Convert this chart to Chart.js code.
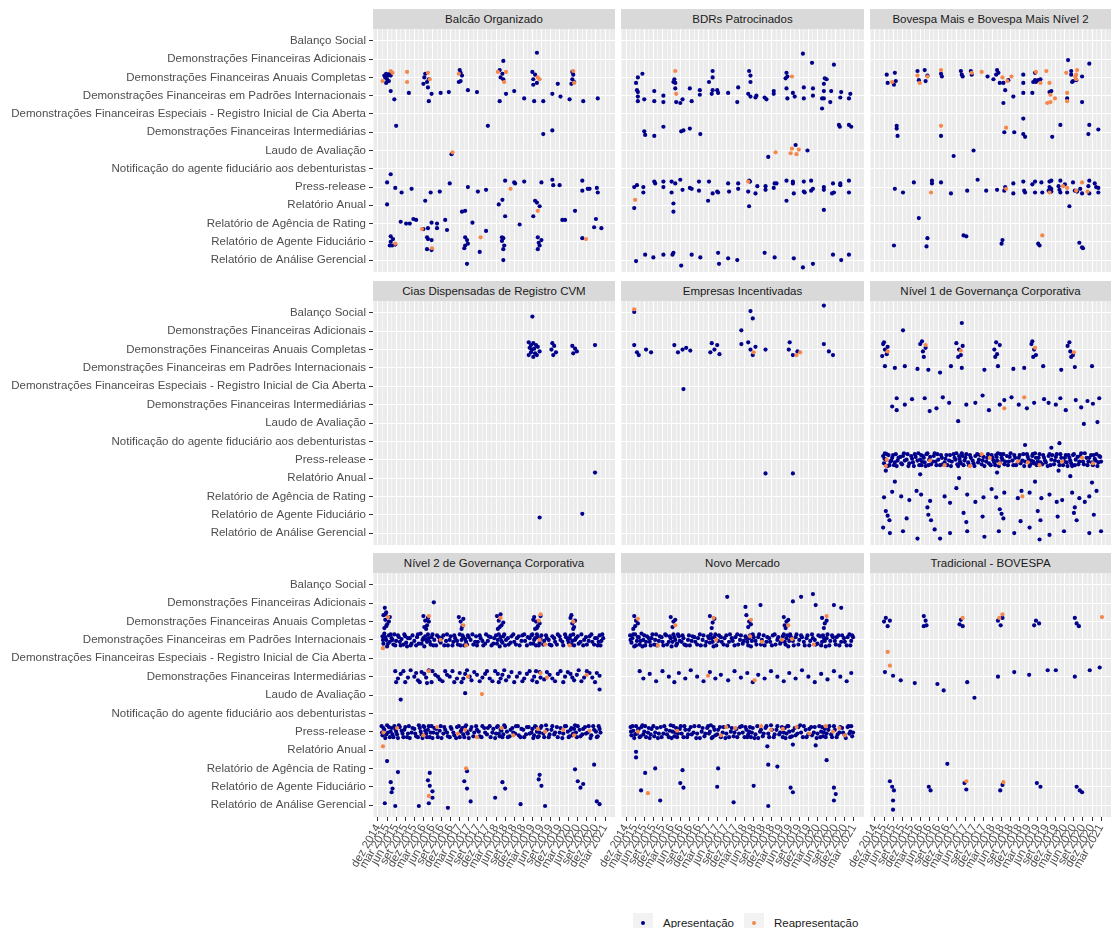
<!DOCTYPE html>
<html>
<head>
<meta charset="utf-8">
<script src="https://cdn.jsdelivr.net/npm/chart.js@4.4.1/dist/chart.umd.min.js"></script>
<style>
  body { margin: 0; background: #fff; font-family: "Liberation Sans", Arial, sans-serif; }
  #tela { position: relative; width: 1113px; height: 928px; overflow: hidden; }
  .faixa { position: absolute; height: 20px; line-height: 20px; background: #d9d9d9; color: #1a1a1a; font-size: 11.5px; text-align: center; }
  .caixa { position: absolute; }
  #legenda { position: absolute; top: 913px; left: 633px; font-size: 11.5px; color: #1a1a1a; display: flex; align-items: center; }
  #legenda .chave { width: 20px; height: 20px; background: #f2f2f2; position: relative; margin-right: 10px; }
  #legenda .chave i { position: absolute; left: 8px; top: 8px; width: 4px; height: 4px; border-radius: 50%; }
  #legenda span.txt { margin-right: 10px; }
</style>
</head>
<body>
<div id="tela">
  <div id="legenda">
    <div class="chave"><i style="background:#00008b"></i></div><span class="txt">Apresentação</span>
    <div class="chave"><i style="background:#f4874b"></i></div><span class="txt">Reapresentação</span>
  </div>
</div>
<script>
// categorias do eixo y (de cima para baixo)
const categorias = [
  'Balanço Social',
  'Demonstrações Financeiras Adicionais',
  'Demonstrações Financeiras Anuais Completas',
  'Demonstrações Financeiras em Padrões Internacionais',
  'Demonstrações Financeiras Especiais - Registro Inicial de Cia Aberta',
  'Demonstrações Financeiras Intermediárias',
  'Laudo de Avaliação',
  'Notificação do agente fiduciário aos debenturistas',
  'Press-release',
  'Relatório Anual',
  'Relatório de Agência de Rating',
  'Relatório de Agente Fiduciário',
  'Relatório de Análise Gerencial'
];

// rótulos trimestrais do eixo x (índice 0 = dez 2014)
const rotulosX = ['dez 2014','mar 2015','jun 2015','set 2015','dez 2015','mar 2016','jun 2016','set 2016',
  'dez 2016','mar 2017','jun 2017','set 2017','dez 2017','mar 2018','jun 2018','set 2018','dez 2018',
  'mar 2019','jun 2019','set 2019','dez 2019','mar 2020','jun 2020','set 2020','dez 2020','mar 2021'];

const titulos = ['Balcão Organizado','BDRs Patrocinados','Bovespa Mais e Bovespa Mais Nível 2',
  'Cias Dispensadas de Registro CVM','Empresas Incentivadas','Nível 1 de Governança Corporativa',
  'Nível 2 de Governança Corporativa','Novo Mercado','Tradicional - BOVESPA'];

// pontos [trimestre, categoria + jitter]
const balcaoApres = [[0.8,2.0],[0.9,1.8],[1.1,1.9],[1.3,1.8],[1.0,2.1],[1.2,2.2],[0.9,2.3],[1.4,1.9],[0.7,1.9],
  [3.4,2.85],[5.2,1.8],[5.1,2.0],[5.0,2.35],[5.4,2.25],[5.6,2.1],[5.5,2.55],[5.6,3.3],[5.9,2.9],[6.9,2.85],[7.8,2.8],
  [9.0,1.6],[9.1,1.75],[9.25,1.9],[9.1,2.2],[8.9,2.25],[9.9,2.7],[10.9,2.8],[12.1,4.65],
  [13.8,1.1],[13.4,1.6],[13.7,1.8],[13.5,2.0],[13.8,2.1],[13.4,3.3],[14.1,2.9],[15.0,2.75],[16.1,3.15],[17.2,3.3],
  [18.2,3.3],[18.2,5.1],[19.2,4.9],[19.2,2.9],[19.8,2.35],[20.1,3.05],[21.1,3.2],[22.6,3.3],[24.2,3.15],
  [1.4,2.75],[1.8,3.2],[2.0,4.65],[17.0,1.7],[17.3,1.85],[17.1,2.1],[17.5,2.3],[17.1,2.4],[17.5,0.65],
  [21.4,1.7],[21.5,1.85],[21.4,2.1],[21.6,2.25],[21.3,2.35],[8.1,6.2],
  [1.0,7.75],[1.4,7.3],[1.9,8.05],[2.6,8.3],[3.7,8.1],[5.2,8.75],[5.8,8.3],[6.8,8.25],[7.9,7.8],[9.9,8.0],
  [11.0,8.25],[11.9,8.15],[14.0,7.65],[15.0,7.75],[15.1,7.8],[16.1,7.7],[18.0,7.75],[19.2,7.6],[19.3,7.9],[20.0,7.9],
  [22.5,7.65],[22.5,8.2],[23.1,8.1],[23.3,8.1],[24.1,8.05],[24.2,8.3],
  [1.0,8.95],[13.3,8.95],[13.7,8.7],[17.3,8.75],[17.5,8.85],[17.8,9.05],[9.25,9.35],[9.6,9.3],[14.0,9.6],[21.7,9.3],
  [2.5,9.9],[3.1,10.0],[3.5,10.0],[3.9,9.75],[4.2,9.8],[5.0,10.3],[5.5,10.25],[5.9,9.95],[6.5,10.0],[6.5,10.25],
  [7.4,9.8],[7.6,10.35],[10.4,9.95],[11.9,10.4],[15.6,10.05],[17.1,9.6],[20.3,9.8],[20.6,9.8],[24.0,9.75],[23.8,10.2],[24.6,10.25],
  [1.4,10.7],[1.65,10.85],[1.4,11.0],[1.9,11.15],[1.3,11.2],[1.55,11.2],[5.4,10.75],[5.5,10.85],[5.9,10.9],[5.4,11.4],[5.9,11.45],
  [9.6,10.75],[9.8,10.9],[9.9,11.1],[9.6,11.2],[9.5,11.35],[11.2,11.55],[13.65,10.75],[13.8,10.8],[13.65,10.95],[13.9,11.2],[13.8,11.4],
  [17.6,10.75],[18.0,10.9],[17.7,11.05],[17.8,11.2],[17.6,11.4],[22.5,10.8],[9.8,12.2],[13.8,12.0]];
const balcaoReap = [[0.5,2.2],[1.6,1.75],[1.4,1.65],[3.2,1.7],[3.2,2.25],[5.5,1.75],[5.7,2.1],[8.9,1.8],
  [13.9,2.25],[13.2,1.7],[14.1,1.7],[17.6,2.0],[17.8,2.1],[21.5,1.65],[21.6,2.3],[8.2,6.1],[14.6,8.1],[17.6,9.3],
  [4.85,10.3],[1.9,11.1],[5.95,11.35],[11.3,10.75],[22.9,10.85]];

const bdrApres = [[1.1,2.3],[1.3,2.0],[1.8,1.8],[1.2,2.7],[1.3,2.8],[1.3,3.05],[1.3,3.3],[2.0,3.2],[3.1,2.75],[3.1,3.3],
  [4.1,3.0],[4.1,3.35],[5.2,2.25],[5.3,2.1],[5.4,2.3],[5.4,2.6],[5.5,3.35],[5.95,3.4],[6.2,3.2],[7.0,2.6],[7.2,3.3],
  [8.1,2.7],[8.1,2.95],[9.5,1.65],[9.5,2.0],[9.1,2.25],[9.5,2.7],[9.4,2.9],[10.0,2.7],[10.1,2.85],[11.2,2.85],[12.3,2.55],
  [12.2,3.35],[13.5,1.65],[13.65,1.9],[13.65,2.25],[13.4,2.9],[13.65,3.05],[14.2,3.1],[14.3,3.0],[15.2,3.1],[15.4,3.2],
  [16.2,2.75],[16.2,2.9],[17.6,1.75],[17.5,2.05],[17.7,1.95],[17.6,2.6],[17.7,3.15],[18.3,2.85],[18.5,3.05],[19.4,0.7],
  [19.5,2.55],[19.5,3.15],[20.4,1.2],[20.5,2.6],[20.5,3.0],[21.5,3.15],[21.7,3.15],[21.5,3.7],[21.7,2.75],[21.7,2.35],
  [21.8,2.05],[22.0,2.1],[22.5,2.75],[22.4,3.35],[22.8,1.3],[23.6,2.8],[23.5,3.1],[24.6,2.9],[24.45,3.15],
  [2.0,4.95],[2.1,5.15],[3.1,5.2],[4.1,4.7],[6.05,4.95],[6.3,4.9],[7.0,4.8],[8.15,5.1],[23.35,4.6],[23.45,4.7],[24.45,4.6],[24.7,4.7],
  [18.6,5.7],[15.6,6.35],[19.9,6.0],
  [0.9,8.0],[1.2,7.9],[1.9,8.0],[1.9,8.3],[3.1,7.7],[3.2,7.8],[4.1,7.7],[4.1,8.0],[5.0,7.7],[5.0,8.3],[5.4,7.8],[5.95,7.6],
  [6.2,8.15],[7.0,8.05],[7.2,8.1],[8.0,7.7],[8.0,8.2],[9.1,7.7],[9.0,8.75],[9.5,8.35],[10.0,8.25],[10.1,8.3],[11.2,7.8],
  [11.3,8.25],[12.3,7.8],[12.3,8.1],[13.4,8.25],[13.5,7.65],[13.6,7.7],[14.2,8.35],[14.4,7.95],[15.3,8.15],[15.3,7.95],
  [16.2,8.05],[16.3,7.8],[16.5,7.8],[17.6,8.75],[17.6,7.65],[18.3,7.7],[18.3,7.8],[18.4,8.35],[19.5,7.7],[19.5,8.25],
  [19.6,8.3],[20.3,7.65],[20.3,8.2],[20.5,8.1],[21.7,8.0],[21.7,8.15],[22.7,7.8],[22.6,8.35],[22.8,8.3],[23.5,7.8],
  [23.5,7.9],[24.45,7.65],[24.45,8.3],
  [0.9,9.15],[5.2,8.9],[5.2,9.35],[13.5,9.05],[21.7,9.25],
  [1.1,12.05],[2.1,11.7],[3.0,11.85],[4.1,11.7],[5.1,11.7],[5.2,11.6],[6.05,12.3],[7.2,11.7],[8.15,11.85],[10.1,11.6],
  [10.2,12.2],[11.2,11.9],[12.2,12.0],[15.2,11.6],[16.3,11.85],[18.4,11.9],[19.4,12.4],[20.5,12.2],[22.7,11.7],[23.6,12.0],[24.45,11.7]];
const bdrReap = [[5.4,1.65],[5.5,2.9],[18.2,1.95],[16.4,6.1],[18.2,5.9],[18.05,6.15],[18.7,6.2],[18.95,5.95],[13.4,7.7],[1.0,8.7]];

const bovespaMaisApres = [[1.3,1.85],[1.4,2.3],[2.2,1.75],[2.1,2.4],[2.3,2.2],[4.7,1.65],[4.85,2.15],[5.5,1.6],[5.6,2.2],
  [5.8,1.9],[7.3,1.8],[7.4,1.95],[9.5,1.65],[9.6,1.85],[9.7,1.95],[10.6,1.65],[10.7,1.85],[12.45,1.95],[13.1,2.1],
  [13.4,1.85],[13.5,1.6],[13.65,1.75],[13.8,2.3],[14.2,2.3],[14.4,2.7],[14.2,3.4],[15.3,3.05],[14.75,2.15],[16.4,1.85],
  [16.4,2.3],[16.4,2.85],[17.4,2.85],[17.7,1.75],[17.7,2.15],[17.5,2.25],[17.8,2.25],[18.05,2.15],[18.3,2.1],[19.3,2.8],
  [19.5,2.75],[21.25,3.15],[21.35,1.05],[21.7,1.65],[21.7,1.85],[21.9,2.2],[21.8,2.25],[22.25,2.15],[22.9,1.95],[22.9,3.35],[23.7,1.25],
  [2.4,4.65],[2.4,4.8],[2.5,5.2],[7.3,5.2],[14.3,5.0],[15.4,5.0],[16.4,4.25],[16.4,5.1],[16.6,5.25],[19.6,5.25],[20.5,4.6],
  [23.7,4.6],[23.6,5.1],[24.7,4.85],[8.7,6.3],[10.9,6.0],
  [2.2,8.1],[3.1,8.3],[4.3,7.75],[6.3,7.65],[6.3,7.8],[7.3,7.75],[8.4,8.35],[10.2,8.2],[11.35,7.6],[12.3,8.2],[13.5,8.15],
  [14.4,8.0],[14.3,8.2],[15.3,7.8],[15.3,8.35],[16.4,7.7],[16.5,8.2],[16.6,8.3],[17.4,7.85],[17.7,7.7],[17.7,8.3],[18.4,7.75],
  [18.5,8.3],[19.3,7.7],[19.5,7.65],[19.3,8.0],[19.2,8.2],[19.5,8.25],[19.5,8.1],[20.3,7.95],[20.4,8.15],[20.5,7.65],[20.5,8.3],
  [21.0,7.85],[21.25,8.3],[21.9,7.75],[22.1,8.2],[22.35,8.25],[22.9,8.35],[22.7,8.1],[23.7,7.65],[23.6,7.95],[23.7,8.35],
  [24.3,7.8],[24.45,8.0],[24.7,8.3],[24.7,8.05],[21.5,9.05],[4.85,9.7],
  [2.1,11.2],[5.8,10.8],[5.7,11.25],[9.8,10.65],[10.1,10.7],[14.1,10.9],[14.0,11.1],[18.05,11.1],[18.2,11.2],[22.6,11.05],[23.0,11.35],[22.9,11.3]];
const bovespaMaisReap = [[1.9,2.25],[4.7,1.9],[4.95,2.3],[5.8,1.95],[7.3,1.6],[10.7,1.75],[11.8,1.7],[14.1,2.0],[14.65,2.2],
  [15.1,1.95],[17.8,1.7],[18.3,2.3],[18.95,1.65],[19.3,2.3],[19.4,2.95],[19.05,3.4],[19.4,3.35],[19.9,3.15],[21.15,1.75],
  [21.25,2.85],[21.25,3.3],[22.35,1.6],[22.15,1.95],[22.25,1.85],[22.25,2.1],[7.3,4.65],[14.5,4.75],
  [6.2,8.3],[14.5,8.1],[19.3,8.3],[20.8,7.95],[21.25,8.05],[22.9,7.75],[23.5,8.25],[22.25,8.2],[18.5,10.65]];

const ciasApres = [[17.0,0.2],[16.6,1.6],[16.85,1.75],[17.1,1.65],[17.4,1.75],[16.7,1.9],[17.2,1.95],[17.6,1.85],[16.85,2.15],
  [17.3,2.2],[16.6,2.3],[17.5,2.3],[17.1,2.4],[17.8,2.1],[16.95,2.0],[19.2,1.65],[19.4,1.8],[19.1,2.0],[19.6,2.15],[19.3,2.3],
  [21.4,1.8],[21.7,1.95],[21.5,2.2],[21.9,2.1],[23.9,1.75],[23.9,8.7],[17.8,11.15],[22.5,10.95]];
const ciasReap = [];

const incentivadasApres = [[0.9,-0.05],[21.7,-0.4],[13.65,-0.1],[13.9,0.3],[12.65,0.95],[0.9,1.75],[1.2,2.15],[1.4,2.3],
  [2.2,2.0],[2.75,2.15],[5.3,1.75],[5.7,2.15],[6.2,2.0],[6.6,1.9],[7.05,2.05],[9.4,1.65],[9.7,2.0],[10.0,1.75],[10.25,2.25],
  [9.25,2.15],[12.65,1.7],[13.4,1.6],[13.65,2.0],[14.2,1.85],[13.9,2.3],[15.3,2.0],[17.95,1.6],[17.85,2.0],[18.3,2.3],
  [18.8,2.1],[21.7,1.7],[22.25,2.1],[22.7,2.3],[6.3,4.15],[15.3,8.75],[18.3,8.75]];
const incentivadasReap = [[0.9,-0.2],[14.0,2.15],[18.7,2.3],[19.1,2.15]];

const nivel1Apres = [[3.1,0.95],[9.6,0.55],[0.9,1.7],[1.1,2.0],[1.3,2.25],[0.8,2.35],[1.4,1.85],[1.0,1.6],[5.0,1.7],[5.3,2.1],[5.6,1.9],
  [5.4,2.4],[5.2,1.55],[9.0,1.65],[9.3,2.0],[9.5,2.3],[9.7,1.8],[9.2,2.4],[13.2,2.0],[13.5,2.25],[13.8,1.75],[13.4,1.6],[13.3,2.4],
  [17.3,1.7],[17.6,2.0],[17.8,2.3],[17.5,2.4],[17.4,1.55],[21.3,1.8],[21.6,2.1],[21.9,2.3],[21.5,1.6],[21.7,2.4],
  [1.1,2.9],[2.2,3.0],[3.3,2.9],[4.7,3.05],[5.9,3.1],[7.2,3.25],[8.4,2.9],[9.6,3.0],[12.1,3.1],[13.6,2.9],[15.3,3.05],
  [16.5,3.0],[18.6,2.9],[20.6,3.1],[22.1,2.95],[24.0,2.9],
  [2.4,4.65],[2.4,5.3],[3.3,5.0],[5.5,4.65],[6.05,5.35],[7.5,4.6],[9.2,5.9],[10.1,5.0],[11.1,4.9],[11.9,4.5],[13.8,5.0],
  [14.3,4.75],[15.9,5.0],[17.6,4.9],[18.7,4.7],[20.0,5.0],[20.5,4.65],[22.2,4.75],[22.8,5.15],[24.1,4.95],[24.8,4.65],
  [1.9,5.1],[4.1,4.7],[6.8,5.2],[8.2,4.9],[12.6,5.3],[15.1,4.6],[16.8,5.2],[19.2,4.9],[21.1,5.3],[23.5,4.8],
  [23.1,6.05],[24.6,5.95],[20.4,7.1],[16.6,7.2],[19.5,7.35],
  [1.2,8.6],[2.2,9.2],[5.0,8.8],[9.3,9.0],[13.5,8.7],[17.7,9.2],[21.6,8.9],[24.0,9.25],[20.3,8.6],
  [1.0,10.05],[1.9,9.75],[2.9,10.0],[3.8,10.2],[5.1,9.9],[6.1,10.25],[7.7,10.0],[9.0,9.55],[10.2,9.9],[11.1,10.3],[12.0,10.05],
  [13.4,10.05],[14.3,9.8],[15.8,10.1],[17.1,9.8],[18.4,10.1],[19.3,9.9],[20.1,10.3],[20.7,10.2],[21.8,9.8],[22.6,10.1],[23.7,10.0],
  [24.5,9.7],[8.3,10.35],[16.2,9.7],[23.2,10.3],[4.6,9.7],[12.9,9.6],
  [1.2,10.8],[1.6,11.3],[1.4,11.05],[5.8,10.6],[6.2,11.3],[5.9,11.0],[9.8,10.9],[10.1,11.4],[13.8,10.7],[14.2,11.2],[14.0,10.95],
  [18.0,10.8],[18.3,11.3],[22.0,10.9],[22.3,11.3],[22.1,10.6],[3.5,11.2],[11.9,11.1],[16.1,11.35],[20.2,11.1],[24.2,11.0],
  [0.9,11.7],[1.65,12.0],[3.1,11.9],[4.7,12.3],[6.6,11.8],[8.3,12.0],[10.2,11.9],[12.1,12.2],[13.7,11.9],[15.4,12.0],
  [17.1,11.7],[19.3,12.1],[20.9,11.9],[23.7,12.0],[25.0,11.9],[7.2,12.3],[18.2,12.35]];
// faixa densa de Press-release (Nível 1)
const nivel1Press = [[0.9,7.8],[1.0,8.2],[1.1,7.65],[1.2,8.0],[1.4,8.35],[1.5,7.75],[1.7,8.1],[1.9,7.9],[2.1,8.3],[2.3,7.7],
  [2.5,8.05],[2.8,7.85],[3.0,8.25],[3.2,7.65],[3.5,8.0],[3.7,8.35],[4.0,7.8],[4.2,8.15],[4.4,7.7],[4.7,8.05],[4.9,8.3],
  [5.1,7.75],[5.2,8.1],[5.4,7.9],[5.6,8.35],[5.8,7.65],[6.0,8.0],[6.2,8.25],[6.5,7.8],[6.7,8.1],[6.9,7.7],[7.2,8.3],
  [7.4,7.9],[7.7,8.15],[7.9,7.75],[8.2,8.05],[8.4,8.35],[8.7,7.7],[8.9,8.0],[9.1,8.25],[9.3,7.8],[9.4,8.1],[9.6,7.65],
  [9.8,8.3],[10.0,7.9],[10.3,8.15],[10.5,7.75],[10.8,8.05],[11.0,8.35],[11.3,7.7],[11.5,8.0],[11.8,8.25],[12.0,7.85],
  [12.3,8.1],[12.5,7.7],[12.8,8.3],[13.0,7.9],[13.2,8.15],[13.4,7.75],[13.5,8.05],[13.7,8.35],[13.9,7.7],[14.1,8.0],
  [14.3,8.25],[14.6,7.8],[14.8,8.1],[15.0,7.65],[15.3,8.3],[15.5,7.9],[15.8,8.15],[16.0,7.75],[16.3,8.05],[16.5,8.35],
  [16.8,7.7],[17.0,8.0],[17.2,8.25],[17.4,7.8],[17.5,8.1],[17.7,7.65],[17.9,8.3],[18.1,7.9],[18.3,8.15],[18.6,7.75],
  [18.8,8.05],[19.1,8.35],[19.3,7.7],[19.5,8.0],[19.8,8.25],[20.0,7.85],[20.3,8.1],[20.5,7.7],[20.8,8.3],[21.0,7.9],
  [21.2,8.15],[21.4,7.75],[21.6,8.05],[21.8,8.35],[22.0,7.7],[22.2,8.0],[22.5,8.25],[22.7,7.8],[23.0,8.1],[23.2,7.65],
  [23.5,8.3],[23.7,7.9],[24.0,8.15],[24.2,7.75],[24.4,8.05],[24.6,8.35],[24.8,7.8],[25.0,8.1],
  [1.05,7.95],[1.3,7.7],[1.6,8.3],[1.8,8.05],[2.0,7.75],[2.2,8.15],[2.4,8.35],[2.6,7.9],[2.9,8.2],[3.1,7.8],[3.3,8.05],
  [3.6,7.7],[3.8,8.2],[4.1,7.95],[4.3,8.35],[4.5,7.85],[4.8,7.65],[5.0,8.0],[5.15,8.3],[5.3,7.8],[5.5,8.15],[5.7,7.7],
  [5.9,8.3],[6.1,7.85],[6.4,8.1],[6.6,7.65],[6.8,8.3],[7.0,8.0],[7.3,7.75],[7.5,8.25],[7.8,7.95],[8.0,8.3],[8.3,7.75],
  [8.5,8.1],[8.8,7.9],[9.0,7.65],[9.2,8.35],[9.35,7.95],[9.5,8.2],[9.7,7.8],[9.9,8.05],[10.1,7.7],[10.4,8.3],[10.6,7.9],
  [10.9,8.2],[11.1,7.8],[11.4,8.15],[11.6,7.75],[11.9,8.05],[12.1,8.35],[12.4,7.9],[12.6,8.2],[12.9,7.75],[13.1,8.05],
  [13.3,8.3],[13.45,7.85],[13.6,7.65],[13.8,8.15],[14.0,7.9],[14.2,7.7],[14.4,8.1],[14.7,8.3],[14.9,7.85],[15.2,8.05],
  [15.4,7.75],[15.6,8.3],[15.9,7.9],[16.1,8.2],[16.4,7.7],[16.6,8.1],[16.9,7.85],[17.1,8.35],[17.3,8.05],[17.45,7.7],
  [17.6,8.2],[17.8,7.9],[18.0,8.1],[18.2,7.7],[18.5,8.25],[18.7,7.9],[18.9,8.15],[19.2,7.8],[19.4,8.3],[19.6,7.75],
  [19.9,8.05],[20.1,7.7],[20.4,8.3],[20.6,7.9],[20.9,8.1],[21.1,7.75],[21.3,8.35],[21.5,7.9],[21.7,8.2],[21.9,7.75],
  [22.1,8.3],[22.4,7.85],[22.6,8.1],[22.8,7.65],[23.1,8.25],[23.4,7.9],[23.6,8.1],[23.9,7.75],[24.1,8.3],[24.3,7.95],
  [24.5,7.7],[24.7,8.15],[24.9,7.85]];
const nivel1Reap = [[1.4,2.1],[5.6,1.75],[9.5,2.05],[17.7,1.9],[22.0,2.15],[16.5,4.6],[14.3,5.2],
  [1.3,8.0],[1.2,8.35],[6.1,8.05],[10.5,8.35],[12.7,7.9],[13.8,8.2],[15.8,8.1],[18.2,8.3],[20.7,8.1],[22.9,7.9],[24.1,8.2],
  [7.7,8.3],[11.8,7.7],[16.9,8.15],[16.3,10.0]];

const nivel2Apres = [[0.75,1.25],[0.9,1.5],[0.8,1.6],[6.15,0.95],
  [0.6,1.65],[0.8,1.9],[1.0,2.15],[0.7,2.35],[1.2,2.0],[0.9,2.25],[1.3,1.75],
  [5.0,1.7],[5.2,1.95],[5.4,2.2],[5.6,2.0],[5.3,2.4],[5.5,1.8],[5.1,2.3],
  [8.9,1.75],[9.1,2.0],[9.3,2.25],[9.2,2.4],[9.4,1.85],
  [13.1,1.7],[13.3,1.95],[13.6,2.2],[13.2,2.4],[13.5,1.6],[13.8,2.05],[13.4,2.3],
  [17.2,1.75],[17.4,2.0],[17.6,2.25],[17.3,2.4],[17.8,2.1],[17.1,1.9],[17.9,1.7],[17.5,2.35],
  [21.2,1.8],[21.4,2.1],[21.6,2.3],[21.3,1.65],[21.7,1.95],[21.5,2.4],
  [1.9,4.7],[2.2,5.1],[2.5,4.85],[3.0,5.3],[3.6,4.65],[4.0,5.0],[4.4,5.2],[4.8,4.75],[5.3,5.05],[5.6,4.65],[5.9,5.3],
  [6.3,4.9],[6.8,5.15],[7.4,4.7],[7.9,5.0],[8.4,5.3],[9.0,4.8],[9.4,5.1],[9.8,4.65],[10.3,5.2],[10.9,4.9],[11.5,5.05],
  [12.0,4.7],[12.6,5.25],[13.2,4.85],[13.5,5.1],[13.9,4.65],[14.4,5.0],[15.0,5.3],[15.6,4.8],[16.1,5.1],[16.7,4.7],
  [17.2,5.0],[17.5,5.3],[17.8,4.75],[18.3,5.15],[18.9,4.9],[19.5,5.25],[20.1,4.7],[20.6,5.0],[21.2,4.85],[21.6,5.2],
  [22.1,4.65],[22.7,5.05],[23.3,4.8],[23.9,5.3],[24.4,4.95],
  [2.0,5.3],[2.8,4.7],[3.3,5.05],[4.2,4.8],[4.6,5.3],[5.1,4.85],[5.4,5.35],[6.0,4.7],[6.6,5.0],[7.1,5.25],[7.6,4.9],
  [8.2,4.7],[8.7,5.1],[9.2,5.3],[9.6,4.85],[10.1,5.0],[10.6,4.75],[11.2,5.25],[11.8,4.85],[12.3,5.1],[12.9,4.7],
  [13.3,5.3],[13.7,4.9],[14.1,5.2],[14.7,4.75],[15.3,5.0],[15.9,5.25],[16.4,4.85],[17.0,5.2],[17.4,4.7],[17.9,5.05],
  [18.6,4.75],[19.2,5.1],[19.8,4.85],[20.4,5.3],[20.9,4.75],[21.4,5.05],[21.9,4.9],[22.4,5.25],[23.0,4.7],[23.6,5.05],[24.1,4.8],
  [2.5,6.25],[9.6,5.9],[24.4,5.7],
  [1.0,9.6],[2.2,10.2],[5.7,10.25],[9.8,10.15],[17.8,10.35],[21.7,10.05],[23.8,9.8],
  [1.4,10.75],[1.6,11.1],[1.5,11.3],[5.5,10.65],[5.7,10.95],[6.0,11.25],[9.5,10.7],[9.8,11.1],[13.7,10.75],[14.0,11.1],
  [17.7,10.6],[18.0,10.95],[22.0,10.7],[22.3,11.05],[22.6,10.85],
  [0.75,11.9],[1.9,12.05],[4.5,12.05],[5.6,11.9],[6.0,11.6],[7.7,12.15],[10.2,11.8],[12.9,11.6],[15.7,11.95],[18.4,12.05],
  [24.1,11.8],[24.4,11.95]];
// faixas densas do Nível 2: Padrões Internacionais e Press-release
const nivel2Padroes = [[0.5,2.8],[0.6,3.2],[0.7,2.65],[0.9,3.0],[1.0,3.35],[1.2,2.75],[1.3,3.1],[1.5,2.9],[1.7,3.25],[1.8,2.7],
  [2.0,3.05],[2.3,2.85],[2.5,3.3],[2.6,2.95],[2.9,2.7],[3.1,3.15],[3.3,2.9],[3.6,3.3],[3.8,2.75],[4.0,3.05],[4.3,2.85],
  [4.5,3.2],[4.7,2.65],[4.9,3.0],[5.1,3.35],[5.2,2.8],[5.4,3.1],[5.6,2.9],[5.8,3.25],[6.0,2.7],[6.2,3.0],[6.4,3.3],
  [6.7,2.85],[6.9,3.15],[7.2,2.75],[7.5,3.05],[7.7,3.3],[8.0,2.8],[8.3,3.1],[8.5,2.9],[8.8,3.25],[9.0,2.7],[9.2,3.0],
  [9.4,2.85],[9.5,3.3],[9.7,3.1],[9.9,2.75],[10.2,3.0],[10.5,3.25],[10.8,2.8],[11.0,3.1],[11.3,2.9],[11.6,3.3],[11.9,2.7],
  [12.1,3.05],[12.4,2.85],[12.7,3.2],[13.0,2.75],[13.2,3.0],[13.4,3.35],[13.5,2.85],[13.7,3.15],[13.9,2.7],[14.1,3.0],
  [14.4,3.25],[14.7,2.8],[15.0,3.1],[15.3,2.9],[15.6,3.3],[15.9,2.75],[16.2,3.05],[16.5,2.85],[16.8,3.2],[17.0,2.7],
  [17.2,3.0],[17.4,3.3],[17.6,2.85],[17.8,3.15],[18.0,2.75],[18.3,3.05],[18.6,2.9],[18.9,3.25],[19.2,2.8],[19.5,3.1],
  [19.8,2.7],[20.1,3.0],[20.4,3.3],[20.7,2.85],[21.0,3.15],[21.2,2.75],[21.4,3.05],[21.6,3.3],[21.8,2.9],[22.1,3.2],
  [22.4,2.7],[22.7,3.0],[23.0,3.25],[23.3,2.8],[23.6,3.1],[23.9,2.9],[24.2,3.3],[24.4,2.75],[24.6,3.05],[24.8,2.9],
  [0.55,3.0],[0.8,2.85],[1.1,3.2],[1.4,2.7],[1.6,3.0],[1.9,3.3],[2.2,2.75],[2.4,3.1],[2.8,3.25],[3.0,2.8],[3.2,3.35],
  [3.5,2.9],[3.7,3.2],[4.2,3.3],[4.4,2.7],[4.8,3.2],[5.0,2.9],[5.3,3.0],[5.5,2.7],[5.7,3.1],[5.9,2.85],[6.1,3.3],
  [6.5,2.75],[6.8,3.05],[7.0,2.9],[7.3,3.3],[7.6,2.7],[7.9,3.0],[8.2,3.3],[8.4,2.75],[8.7,3.05],[9.1,3.3],[9.3,2.75],
  [9.6,2.95],[9.8,3.25],[10.0,2.85],[10.4,2.7],[10.7,3.1],[10.9,3.3],[11.2,2.75],[11.5,3.05],[11.8,3.2],[12.2,2.8],
  [12.5,3.3],[12.8,2.9],[13.1,3.2],[13.3,2.7],[13.6,3.05],[13.8,2.8],[14.0,3.3],[14.3,2.9],[14.6,3.15],[14.9,2.7],
  [15.2,3.25],[15.5,2.8],[15.8,3.05],[16.1,2.7],[16.4,3.3],[16.7,2.9],[16.9,2.75],[17.1,3.2],[17.3,2.9],[17.5,2.7],
  [17.7,3.3],[17.9,2.95],[18.2,3.25],[18.5,2.75],[18.8,3.0],[19.1,3.3],[19.4,2.9],[19.7,3.25],[20.0,2.8],[20.3,3.1],
  [20.6,2.7],[20.9,3.0],[21.1,2.9],[21.3,3.25],[21.5,2.7],[21.7,3.0],[22.0,2.8],[22.3,3.1],[22.6,3.3],[22.9,2.85],
  [23.2,3.05],[23.5,2.7],[23.8,3.25],[24.1,2.9],[24.3,3.1],[24.5,3.3],[24.7,2.7]];
const nivel2Press = [[0.4,7.7],[0.5,8.2],[0.7,7.9],[0.8,8.35],[1.0,7.65],[1.1,8.05],[1.3,8.3],[1.5,7.8],[1.6,8.15],[1.8,7.7],
  [2.0,8.0],[2.2,8.35],[2.4,7.75],[2.7,8.1],[2.9,7.9],[3.2,8.3],[3.4,7.7],[3.7,8.05],[4.0,7.85],[4.2,8.25],[4.5,7.65],
  [4.7,8.0],[4.9,8.35],[5.1,7.75],[5.3,8.1],[5.5,7.9],[5.7,8.3],[5.9,7.7],[6.1,8.05],[6.4,7.85],[6.6,8.3],[6.9,7.7],
  [7.2,8.1],[7.4,7.9],[7.7,8.25],[8.0,7.75],[8.3,8.05],[8.6,8.35],[8.9,7.7],[9.1,8.0],[9.3,7.8],[9.5,8.3],[9.7,7.65],
  [9.9,8.1],[10.2,7.9],[10.5,8.25],[10.8,7.7],[11.1,8.0],[11.4,8.3],[11.7,7.8],[12.0,8.15],[12.3,7.7],[12.6,8.05],
  [12.9,8.35],[13.1,7.75],[13.3,8.1],[13.5,7.9],[13.7,8.3],[13.9,7.65],[14.2,8.0],[14.5,8.25],[14.8,7.8],[15.1,8.1],
  [15.4,7.7],[15.7,8.3],[16.0,7.9],[16.3,8.15],[16.6,7.75],[16.9,8.05],[17.1,8.35],[17.3,7.7],[17.5,8.0],[17.7,8.25],
  [17.9,7.8],[18.2,8.1],[18.5,7.65],[18.8,8.3],[19.1,7.9],[19.4,8.15],[19.7,7.75],[20.0,8.05],[20.3,8.35],[20.6,7.7],
  [20.9,8.0],[21.1,8.25],[21.3,7.8],[21.5,8.1],[21.7,7.65],[21.9,8.3],[22.2,7.9],[22.5,8.15],[22.8,7.75],[23.1,8.05],
  [23.4,8.35],[23.7,7.7],[24.0,8.0],[24.2,8.25],[24.4,7.85],
  [0.45,8.05],[0.6,7.8],[0.9,8.15],[1.2,7.75],[1.4,8.0],[1.7,8.3],[1.9,7.85],[2.1,8.15],[2.3,7.65],[2.6,7.95],[2.8,8.3],
  [3.0,7.75],[3.3,8.1],[3.5,8.35],[3.8,7.8],[4.1,8.1],[4.4,8.3],[4.6,7.8],[4.8,8.15],[5.0,7.7],[5.2,7.95],[5.4,8.3],
  [5.6,7.7],[5.8,8.05],[6.0,8.35],[6.2,7.8],[6.5,8.1],[6.8,7.95],[7.0,8.35],[7.3,7.75],[7.6,8.05],[7.9,8.3],[8.1,7.85],
  [8.4,8.2],[8.7,7.75],[9.0,8.3],[9.2,7.9],[9.4,8.15],[9.6,7.75],[9.8,8.0],[10.0,8.35],[10.3,7.75],[10.6,8.05],[10.9,7.9],
  [11.2,8.25],[11.5,7.7],[11.8,8.05],[12.1,7.8],[12.4,8.3],[12.7,7.85],[13.0,8.1],[13.2,7.7],[13.4,8.25],[13.6,7.95],
  [13.8,8.15],[14.0,7.75],[14.3,8.3],[14.6,7.9],[14.9,8.05],[15.2,7.7],[15.5,8.2],[15.8,7.85],[16.1,8.3],[16.4,7.75],
  [16.7,8.1],[17.0,7.85],[17.2,8.2],[17.4,7.75],[17.6,8.3],[17.8,8.05],[18.0,7.7],[18.3,8.3],[18.6,7.9],[18.9,8.15],
  [19.2,7.7],[19.5,8.05],[19.8,8.3],[20.1,7.8],[20.4,8.1],[20.7,7.7],[21.0,8.3],[21.2,7.9],[21.4,8.2],[21.6,7.85],
  [21.8,8.05],[22.0,7.7],[22.3,8.25],[22.6,7.85],[22.9,8.1],[23.2,7.7],[23.5,8.2],[23.8,7.9],[24.1,8.3],[24.3,7.7],[24.5,8.05]];
const nivel2Reap = [[1.1,1.75],[5.6,1.7],[9.4,2.2],[13.5,1.8],[17.9,1.6],[17.7,1.95],[21.5,2.0],
  [0.55,3.45],[6.9,3.0],[9.7,3.3],[17.8,3.0],[18.4,3.25],[21.1,3.3],
  [5.6,4.7],[9.9,5.0],[17.9,4.8],[18.6,5.05],[23.0,4.9],[11.45,5.95],
  [0.6,8.05],[2.1,7.8],[5.0,8.2],[6.5,7.75],[8.8,8.1],[9.6,7.9],[10.9,8.3],[13.6,7.8],[14.9,8.2],[17.6,7.85],[18.4,8.0],
  [20.4,7.9],[21.6,8.2],[23.3,7.95],[0.55,8.8],[9.7,10.0],[5.6,11.5]];

const novoApres = [[11.1,0.65],[13.1,1.2],[14.75,1.1],[18.3,0.9],[19.2,0.65],[20.5,0.5],[20.8,1.1],[22.8,1.1],[23.6,1.25],
  [0.9,1.7],[1.1,1.95],[1.0,2.25],[1.3,2.1],[0.8,2.4],[4.9,1.75],[5.2,2.0],[5.1,2.3],[5.4,1.9],
  [9.2,1.7],[9.5,2.05],[9.4,2.35],[9.7,1.85],[13.2,1.65],[13.5,2.0],[13.4,2.3],[13.7,2.15],
  [17.3,1.75],[17.6,2.0],[17.5,2.35],[17.8,1.9],[17.4,2.2],[21.5,1.8],[21.8,2.1],[21.7,2.35],[22.0,1.95],
  [1.5,4.7],[1.9,5.1],[2.6,4.85],[3.3,5.25],[4.0,4.7],[4.7,5.0],[5.3,5.3],[5.8,4.8],[6.5,5.1],[7.1,4.65],[7.8,5.0],
  [8.5,5.25],[9.2,4.75],[9.8,5.1],[10.4,4.9],[11.2,5.2],[11.9,4.7],[12.6,5.05],[13.3,4.8],[13.9,5.3],[14.5,4.9],
  [15.2,5.1],[15.9,4.7],[16.6,5.0],[17.3,5.25],[17.9,4.8],[18.6,5.1],[19.3,4.65],[20.0,5.0],[20.7,5.3],[21.4,4.85],
  [22.1,5.15],[22.8,4.7],[23.5,5.0],[24.2,5.25],[24.7,4.8],
  [18.3,8.7],[15.5,8.8],[20.8,8.75],
  [1.1,9.1],[1.1,9.4],[2.1,10.25],[3.2,10.0],[6.2,10.1],[10.1,10.0],[15.6,9.8],[16.6,9.9],[22.0,9.55],
  [1.65,11.2],[5.95,10.8],[6.3,11.05],[10.0,11.0],[14.0,10.95],[18.05,11.05],[18.3,11.3],[22.8,11.05],[23.0,11.4],
  [3.75,11.75],[11.8,11.85],[15.6,12.05],[22.8,11.75]];
// faixas densas do Novo Mercado: Padrões Internacionais e Press-release
const novoPadroes = [[0.45,2.75],[0.6,3.15],[0.7,2.9],[0.9,3.35],[1.0,2.7],[1.2,3.05],[1.4,2.85],[1.5,3.25],[1.7,2.65],[1.9,3.0],
  [2.1,3.3],[2.3,2.8],[2.6,3.1],[2.8,2.9],[3.1,3.25],[3.3,2.7],[3.6,3.05],[3.9,2.85],[4.1,3.3],[4.4,2.75],[4.7,3.1],
  [4.9,2.9],[5.0,3.35],[5.2,2.7],[5.4,3.0],[5.6,3.2],[5.8,2.8],[6.1,3.1],[6.3,2.9],[6.6,3.3],[6.9,2.75],[7.2,3.05],
  [7.5,2.85],[7.8,3.25],[8.1,2.7],[8.4,3.0],[8.7,3.3],[9.0,2.8],[9.2,3.15],[9.4,2.9],[9.6,3.35],[9.8,2.7],[10.1,3.05],
  [10.4,2.85],[10.7,3.25],[11.0,2.75],[11.3,3.1],[11.6,2.9],[11.9,3.3],[12.2,2.7],[12.5,3.0],[12.8,3.2],[13.1,2.8],
  [13.3,3.1],[13.5,2.9],[13.7,3.35],[13.9,2.7],[14.2,3.05],[14.5,2.85],[14.8,3.25],[15.1,2.75],[15.4,3.1],[15.7,2.9],
  [16.0,3.3],[16.3,2.7],[16.6,3.0],[16.9,3.2],[17.2,2.8],[17.4,3.1],[17.6,2.9],[17.8,3.35],[18.0,2.7],[18.3,3.05],
  [18.6,2.85],[18.9,3.25],[19.2,2.75],[19.5,3.1],[19.8,2.9],[20.1,3.3],[20.4,2.7],[20.7,3.0],[21.0,3.2],[21.3,2.8],
  [21.5,3.1],[21.7,2.9],[21.9,3.35],[22.1,2.7],[22.4,3.05],[22.7,2.85],[23.0,3.25],[23.3,2.75],[23.6,3.1],[23.9,2.9],
  [24.2,3.3],[24.5,2.7],[24.7,3.05],[24.9,2.85],
  [0.5,3.0],[0.8,2.7],[1.1,3.3],[1.3,2.85],[1.6,3.05],[1.8,3.35],[2.0,2.75],[2.2,3.1],[2.5,2.9],[2.7,3.3],[2.9,2.7],
  [3.2,3.0],[3.4,3.3],[3.7,2.8],[4.0,3.1],[4.3,2.7],[4.5,3.25],[4.8,2.8],[5.1,3.1],[5.3,2.85],[5.5,3.3],[5.7,2.7],
  [5.9,3.05],[6.2,2.75],[6.4,3.25],[6.8,3.0],[7.0,3.3],[7.3,2.8],[7.6,3.1],[7.9,2.9],[8.2,3.3],[8.5,2.75],[8.8,3.1],
  [9.1,2.9],[9.3,2.7],[9.5,3.1],[9.7,2.85],[9.9,3.3],[10.2,2.75],[10.5,3.1],[10.8,2.9],[11.1,3.3],[11.4,2.7],[11.7,3.05],
  [12.0,2.85],[12.3,3.25],[12.6,2.75],[12.9,3.05],[13.2,2.9],[13.4,3.3],[13.6,2.75],[13.8,3.05],[14.0,2.85],[14.3,3.25],
  [14.6,2.7],[14.9,3.0],[15.2,3.3],[15.5,2.85],[15.8,3.1],[16.1,2.75],[16.4,3.25],[16.7,2.85],[17.0,3.1],[17.3,2.7],
  [17.5,3.25],[17.7,2.75],[17.9,3.05],[18.1,2.85],[18.4,3.3],[18.7,2.7],[19.0,3.0],[19.3,2.85],[19.6,3.3],[19.9,2.75],
  [20.2,3.05],[20.5,2.9],[20.8,3.25],[21.1,2.75],[21.4,3.3],[21.6,2.75],[21.8,3.05],[22.0,2.9],[22.3,3.3],[22.6,2.75],
  [22.9,3.05],[23.1,2.85],[23.4,3.3],[23.7,2.75],[24.0,3.1],[24.3,2.85],[24.6,3.3],[24.8,2.75]];
const novoPress = [[0.5,7.75],[0.6,8.2],[0.8,7.95],[0.9,8.35],[1.1,7.7],[1.2,8.1],[1.4,7.85],[1.6,8.25],[1.8,7.65],[2.0,8.0],
  [2.2,8.3],[2.5,7.8],[2.7,8.15],[3.0,7.7],[3.2,8.05],[3.5,8.35],[3.8,7.75],[4.1,8.1],[4.4,7.9],[4.7,8.3],[4.9,7.65],
  [5.1,8.0],[5.3,8.25],[5.5,7.8],[5.7,8.1],[6.0,7.7],[6.3,8.3],[6.5,7.9],[6.8,8.15],[7.1,7.75],[7.4,8.05],[7.7,8.35],
  [8.0,7.7],[8.3,8.0],[8.6,8.25],[8.9,7.8],[9.1,8.1],[9.3,7.65],[9.5,8.3],[9.7,7.9],[10.0,8.15],[10.3,7.75],[10.6,8.05],
  [10.9,8.35],[11.2,7.7],[11.5,8.0],[11.8,8.25],[12.1,7.85],[12.4,8.1],[12.7,7.7],[13.0,8.3],[13.2,7.9],[13.4,8.15],
  [13.6,7.75],[13.8,8.05],[14.1,8.35],[14.4,7.7],[14.7,8.0],[15.0,8.25],[15.3,7.8],[15.6,8.1],[15.9,7.65],[16.2,8.3],
  [16.5,7.9],[16.8,8.15],[17.1,7.75],[17.3,8.05],[17.5,8.35],[17.7,7.7],[17.9,8.0],[18.2,8.25],[18.5,7.8],[18.8,8.1],
  [19.1,7.65],[19.4,8.3],[19.7,7.9],[20.0,8.15],[20.3,7.75],[20.6,8.05],[20.9,8.35],[21.2,7.7],[21.4,8.0],[21.6,8.25],
  [21.8,7.85],[22.0,8.1],[22.3,7.7],[22.6,8.3],[22.9,7.9],[23.2,8.15],[23.5,7.75],[23.8,8.05],[24.1,8.35],[24.4,7.7],
  [24.6,8.0],[24.8,8.25],
  [0.55,8.0],[0.7,7.7],[1.0,8.15],[1.3,7.9],[1.5,8.3],[1.7,7.75],[1.9,8.15],[2.1,7.7],[2.4,8.05],[2.6,8.35],[2.8,7.85],
  [3.1,8.25],[3.4,7.8],[3.6,8.1],[3.9,8.3],[4.2,7.7],[4.5,8.15],[4.8,7.95],[5.0,8.35],[5.2,7.7],[5.4,8.05],[5.6,8.3],
  [5.9,7.85],[6.1,8.1],[6.4,7.7],[6.7,8.3],[6.9,7.9],[7.2,8.15],[7.5,7.7],[7.8,8.1],[8.1,8.35],[8.4,7.8],[8.7,8.1],
  [9.0,7.7],[9.2,8.0],[9.4,8.35],[9.6,7.75],[9.8,8.2],[10.1,7.9],[10.4,8.3],[10.7,7.75],[11.0,8.1],[11.3,8.3],[11.6,7.8],
  [11.9,8.05],[12.2,8.3],[12.5,7.75],[12.8,8.05],[13.1,7.75],[13.3,8.3],[13.5,8.0],[13.7,8.3],[13.9,7.8],[14.2,8.15],
  [14.5,8.35],[14.8,7.9],[15.1,8.1],[15.4,7.7],[15.7,8.3],[16.0,7.9],[16.3,8.15],[16.6,7.7],[16.9,8.05],[17.2,8.3],
  [17.4,7.8],[17.6,8.1],[17.8,7.7],[18.0,8.3],[18.3,7.95],[18.6,8.2],[18.9,7.75],[19.2,8.05],[19.5,7.7],[19.8,8.3],
  [20.1,7.85],[20.4,8.2],[20.7,7.75],[21.0,8.1],[21.3,8.3],[21.5,7.75],[21.7,8.05],[21.9,8.3],[22.2,7.9],[22.5,8.15],
  [22.8,7.7],[23.1,8.3],[23.4,8.05],[23.7,7.8],[24.0,8.2],[24.3,7.75],[24.5,8.1],[24.7,7.7],[24.9,8.05]];
const novoReap = [[1.3,1.85],[5.4,2.2],[9.6,1.8],[13.7,1.9],[17.8,2.2],[22.0,1.7],
  [3.5,3.3],[9.9,3.0],[13.6,2.8],[14.9,3.1],[17.1,3.0],[18.2,2.95],[20.6,3.25],[9.0,4.95],[14.1,5.2],
  [1.3,8.0],[5.6,7.95],[10.4,8.2],[12.0,7.8],[14.8,7.7],[15.9,7.9],[17.2,7.85],[18.7,7.75],[20.1,8.1],[21.9,7.7],
  [22.7,8.0],[23.4,7.8],[24.0,8.2],[11.0,7.75],[2.4,11.35]];

const tradicionalApres = [[1.2,1.8],[1.0,2.0],[1.4,2.25],[1.65,1.95],[5.4,1.7],[5.6,1.95],[5.4,2.25],[5.7,2.2],[9.5,1.9],
  [9.7,2.25],[9.35,2.15],[13.6,1.95],[13.9,2.2],[14.1,1.8],[17.8,1.95],[18.15,2.1],[17.6,2.2],[22.1,1.8],[22.3,2.1],[22.55,2.25],
  [1.1,4.75],[2.0,4.95],[2.85,5.2],[4.4,5.35],[6.9,5.4],[7.6,5.75],[10.2,5.3],[11.0,6.15],[13.6,5.0],[15.4,4.75],[17.05,4.9],
  [19.1,4.65],[20.0,4.65],[22.1,5.0],[23.75,4.65],[24.85,4.5],[8.0,9.75],
  [1.65,10.7],[1.9,11.0],[2.1,11.2],[5.95,11.0],[6.15,11.2],[9.9,10.8],[10.1,11.15],[14.1,10.9],[13.85,11.2],[17.9,10.8],
  [18.3,11.0],[22.3,11.0],[22.65,11.2],[22.9,11.3],[2.0,11.75],[2.0,12.25]];
const tradicionalReap = [[9.7,1.8],[13.75,1.8],[14.1,1.6],[25.1,1.75],[1.4,3.65],[1.65,4.4],[10.1,10.7],[14.2,10.75]];

const series = [
  [balcaoApres, balcaoReap], [bdrApres, bdrReap], [bovespaMaisApres, bovespaMaisReap],
  [ciasApres, ciasReap], [incentivadasApres, incentivadasReap], [nivel1Apres.concat(nivel1Press), nivel1Reap],
  [nivel2Apres.concat(nivel2Padroes, nivel2Press), nivel2Reap], [novoApres.concat(novoPadroes, novoPress), novoReap],
  [tradicionalApres, tradicionalReap]
];

const AZUL = '#00008b';
const LARANJA = '#f4874b';
const fonte = { family: '"Liberation Sans", Arial, sans-serif', size: 11.5 };

// fundo cinza do painel
const fundoPainel = {
  id: 'fundoPainel',
  beforeDraw(chart) {
    const { ctx, chartArea: a } = chart;
    ctx.save();
    ctx.fillStyle = '#ebebeb';
    ctx.fillRect(a.left, a.top, a.right - a.left, a.bottom - a.top);
    ctx.restore();
  }
};

const colunas = [{ area: 373, right: 615 }, { area: 621, right: 864 }, { area: 870, right: 1111 }];
const linhas = [{ top: 29, h: 243 }, { top: 301, h: 244 }, { top: 573, h: 244 }];
const tela = document.getElementById('tela');

series.forEach(([apres, reap], i) => {
  const c = i % 3, r = Math.floor(i / 3);
  const baixo = r === 2, esquerda = c === 0;
  const col = colunas[c], lin = linhas[r];
  const alturaEixo = baixo ? 90 : 0;
  const larguraEixo = esquerda ? col.area : (baixo ? 50 : 0);
  const left = col.area - larguraEixo;

  const faixa = document.createElement('div');
  faixa.className = 'faixa';
  faixa.textContent = titulos[i];
  faixa.style.left = col.area + 'px';
  faixa.style.width = (col.right - col.area) + 'px';
  faixa.style.top = (lin.top - 20) + 'px';
  tela.appendChild(faixa);

  const caixa = document.createElement('div');
  caixa.className = 'caixa';
  caixa.style.left = left + 'px';
  caixa.style.top = lin.top + 'px';
  const cv = document.createElement('canvas');
  cv.width = col.right - left;
  cv.height = lin.h + alturaEixo;
  caixa.appendChild(cv);
  tela.appendChild(caixa);

  new Chart(cv, {
    type: 'scatter',
    data: {
      datasets: [
        { label: 'Apresentação', data: apres.map(([x, y]) => ({ x, y })), backgroundColor: AZUL,
          pointRadius: 2.1, pointHoverRadius: 0, pointBorderWidth: 0, order: 2 },
        { label: 'Reapresentação', data: reap.map(([x, y]) => ({ x, y })), backgroundColor: LARANJA,
          pointRadius: 2.1, pointHoverRadius: 0, pointBorderWidth: 0, order: 1 }
      ]
    },
    options: {
      responsive: false,
      animation: false,
      devicePixelRatio: 1,
      events: [],
      layout: { padding: 0, autoPadding: false },
      plugins: { legend: { display: false }, tooltip: { enabled: false } },
      scales: {
        x: {
          type: 'linear', min: -0.55, max: 26.1,
          afterBuildTicks: ax => { ax.ticks = rotulosX.map((_, k) => ({ value: k })); },
          afterFit: ax => { ax.height = alturaEixo; ax.paddingLeft = 0; ax.paddingRight = 0; },
          grid: { color: '#ffffff', lineWidth: 1, drawTicks: baixo, tickLength: 4, tickColor: '#333333' },
          border: { display: false },
          ticks: { display: baixo, autoSkip: false, minRotation: 60, maxRotation: 60, padding: 1, color: '#4d4d4d', font: fonte,
                   callback: v => rotulosX[Math.round(v)] }
        },
        xm: {
          type: 'linear', position: 'top', min: -0.55, max: 26.1,
          afterBuildTicks: ax => { ax.ticks = rotulosX.map((_, k) => ({ value: k - 0.5 })).concat([{ value: 25.5 }]); },
          afterFit: ax => { ax.height = 0; ax.paddingLeft = 0; ax.paddingRight = 0; },
          grid: { color: '#ffffff', lineWidth: 0.5, drawTicks: false },
          border: { display: false },
          ticks: { display: false }
        },
        y: {
          type: 'linear', reverse: true, min: -0.65, max: 12.65,
          afterBuildTicks: ax => { ax.ticks = categorias.map((_, k) => ({ value: k })); },
          afterFit: ax => { ax.width = larguraEixo; ax.paddingTop = 0; ax.paddingBottom = 0; },
          grid: { color: '#ffffff', lineWidth: 1, drawTicks: esquerda, tickLength: 4, tickColor: '#333333' },
          border: { display: false },
          ticks: { display: esquerda, padding: 3, color: '#4d4d4d', font: fonte, callback: v => categorias[Math.round(v)] }
        }
      }
    },
    plugins: [fundoPainel]
  });
});
</script>
</body>
</html>
